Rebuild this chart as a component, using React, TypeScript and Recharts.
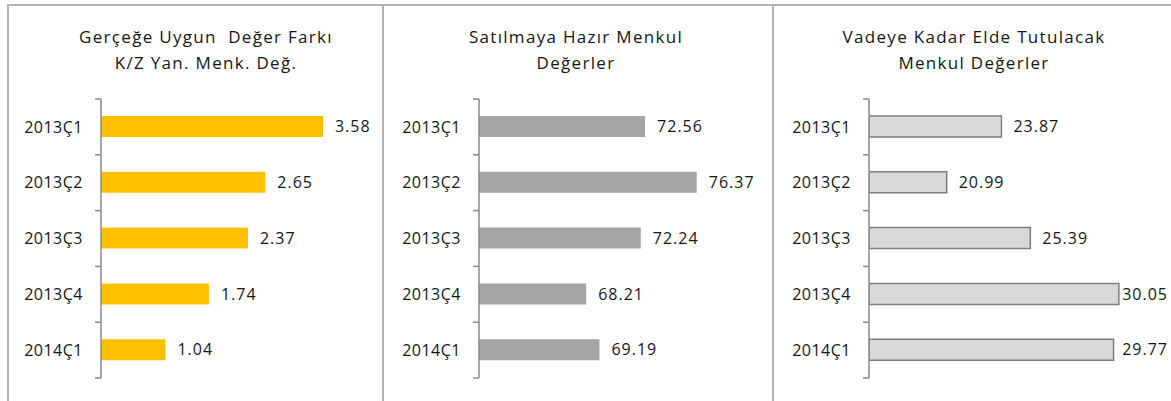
import React from 'react';
import { BarChart, Bar, XAxis, YAxis, LabelList } from 'recharts';

const categories = ['2013Ç1', '2013Ç2', '2013Ç3', '2013Ç4', '2014Ç1'];
const gercegeUygun = [3.58, 2.65, 2.37, 1.74, 1.04];
const satilmayaHazir = [72.56, 76.37, 72.24, 68.21, 69.19];
const vadeyeKadar = [23.87, 20.99, 25.39, 30.05, 29.77];

const titles1 = ['Gerçeğe Uygun  Değer Farkı', 'K/Z Yan. Menk. Değ.'];
const titles2 = ['Satılmaya Hazır Menkul', 'Değerler'];
const titles3 = ['Vadeye Kadar Elde Tutulacak', 'Menkul Değerler'];

const FONT = '"Open Sans", "Noto Sans", sans-serif';
const TEXT = '#161616';
const AXIS = '#8a8a8a';
const BORDER = '#b3b3b3';
const H = 401;
const TOP = 99;
const BOTTOM = 23;
const TICK_SIZE = 6;
const TICK_MARGIN = 12;

type PanelProps = {
  left: number;
  width: number;
  yWidth: number;
  rightMargin: number;
  domain: [number, number];
  values: number[];
  fill: string;
  stroke?: string;
  titles: string[];
  titleCenter: number;
  labelLimit: number;
};

function Panel(p: PanelProps) {
  const data = categories.map((c, i) => ({ name: c, value: p.values[i] }));
  const bandHalf = (H - TOP - BOTTOM) / categories.length / 2;
  const last = categories.length - 1;

  const renderTick = (props: any) => {
    const { x, y, payload, index } = props;
    const off = payload && typeof payload.offset === 'number' && payload.offset > 0 ? payload.offset : bandHalf;
    const lx1 = x + TICK_MARGIN;
    const lx2 = lx1 + TICK_SIZE;
    return (
      <g>
        <text x={x} y={y} dy="0.36em" textAnchor="end" fill={TEXT} fontFamily={FONT} fontSize={16} letterSpacing={0.5}>
          {payload.value}
        </text>
        <line x1={lx1} x2={lx2} y1={y - off} y2={y - off} stroke={AXIS} strokeWidth={1.5} />
        {index === last ? <line x1={lx1} x2={lx2} y1={y + off} y2={y + off} stroke={AXIS} strokeWidth={1.5} /> : null}
      </g>
    );
  };

  const renderLabel = (props: any) => {
    const { x, y, width, height, value } = props;
    const txt = Number(value).toFixed(2);
    const est = txt.length * 9.6;
    let lx = x + width + 12;
    let anchor: 'start' | 'end' = 'start';
    if (lx + est > p.labelLimit) {
      lx = p.labelLimit;
      anchor = 'end';
    }
    return (
      <text x={lx} y={y + height / 2} dy="0.36em" textAnchor={anchor} fill={TEXT} fontFamily={FONT} fontSize={16} letterSpacing={1}>
        {txt}
      </text>
    );
  };

  return (
    <div
      style={{
        position: 'absolute',
        left: p.left,
        top: 0,
        width: p.width,
        height: H,
      }}
    >
      <div
        style={{
          position: 'absolute',
          left: p.titleCenter - p.left - 200,
          width: 400,
          top: 24,
          textAlign: 'center',
          fontFamily: FONT,
          fontSize: 17,
          lineHeight: '25.5px',
          color: TEXT,
          letterSpacing: 1.3,
          whiteSpace: 'pre',
        }}
      >
        {p.titles.map((t, i) => (
          <div key={i}>{t}</div>
        ))}
      </div>
      <BarChart
        layout="vertical"
        width={p.width}
        height={H}
        data={data}
        margin={{ top: TOP, right: p.rightMargin, bottom: BOTTOM, left: 0 }}
        barSize={21}
      >
        <XAxis type="number" domain={p.domain} hide allowDataOverflow />
        <YAxis
          type="category"
          dataKey="name"
          width={p.yWidth}
          interval={0}
          tickLine={false}
          tickSize={TICK_SIZE}
          tickMargin={TICK_MARGIN}
          axisLine={{ stroke: AXIS, strokeWidth: 1.5 }}
          tick={renderTick}
        />
        <Bar
          dataKey="value"
          fill={p.fill}
          stroke={p.stroke || 'none'}
          strokeWidth={p.stroke ? 1.5 : 0}
          isAnimationActive={false}
        >
          <LabelList dataKey="value" content={renderLabel} />
        </Bar>
      </BarChart>
    </div>
  );
}

export default function App() {
  return (
    <div
      style={{
        position: 'absolute',
        left: 0,
        top: 0,
        width: 1171,
        height: H,
        overflow: 'hidden',
        background: '#ffffff',
      }}
    >
      <div style={{ position: 'absolute', left: 8, top: 4, width: 1163, height: 2, background: BORDER }} />
      <div style={{ position: 'absolute', left: 7, top: 4, width: 2, height: 397, background: BORDER }} />
      <div style={{ position: 'absolute', left: 382, top: 4, width: 2, height: 397, background: BORDER }} />
      <div style={{ position: 'absolute', left: 772, top: 4, width: 2, height: 397, background: BORDER }} />
      <Panel
        left={8}
        width={375}
        yWidth={93}
        rightMargin={34}
        domain={[0, 4]}
        values={gercegeUygun}
        fill="#ffc000"
        titles={titles1}
        titleCenter={206}
        labelLimit={1000}
      />
      <Panel
        left={383}
        width={390}
        yWidth={96}
        rightMargin={23}
        domain={[60.3, 80.3]}
        values={satilmayaHazir}
        fill="#a5a5a5"
        titles={titles2}
        titleCenter={576}
        labelLimit={1000}
      />
      <Panel
        left={773}
        width={398}
        yWidth={96}
        rightMargin={17}
        domain={[16.9, 31.9]}
        values={vadeyeKadar}
        fill="#d9d9d9"
        stroke="#7f7f7f"
        titles={titles3}
        titleCenter={974}
        labelLimit={395}
      />
    </div>
  );
}
